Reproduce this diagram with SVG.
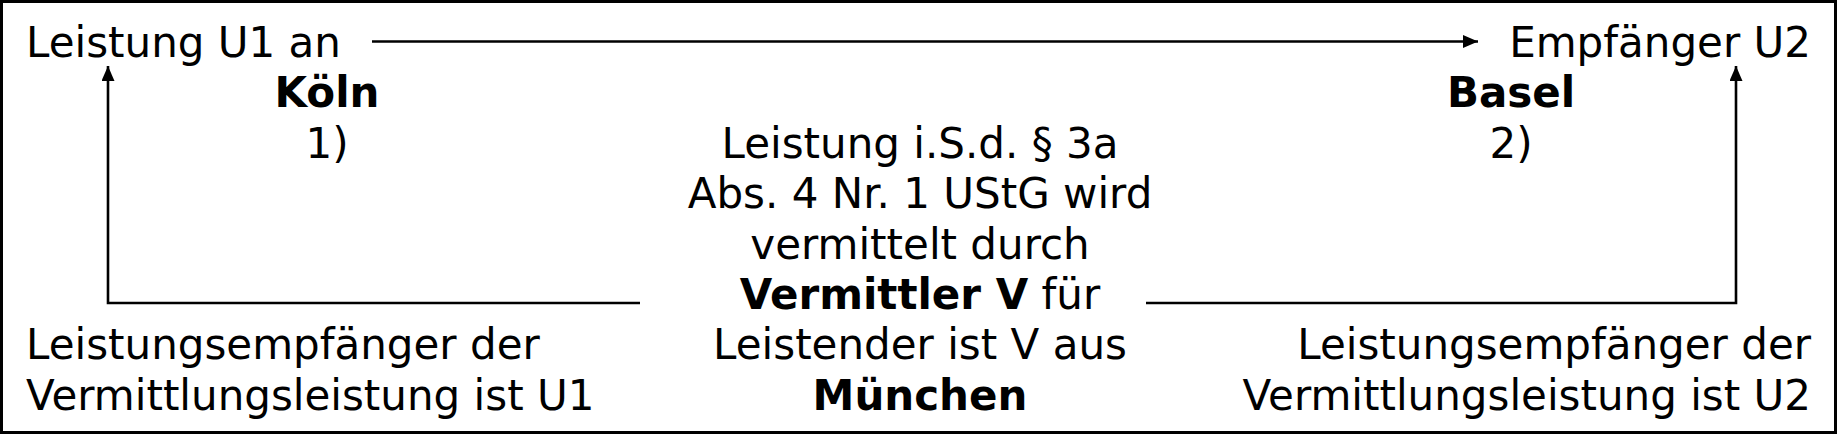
<svg xmlns="http://www.w3.org/2000/svg" width="1837" height="434" viewBox="0 0 1837 434">
<defs>
<style>
text{font-family:"DejaVu Sans","Verdana",sans-serif;font-size:42px;fill:#000}
.b{font-weight:bold}
.m{text-anchor:middle}
.r{text-anchor:end}
.c{fill:none;stroke:#000;stroke-width:2.6}
</style>
<marker id="ah" markerUnits="userSpaceOnUse" markerWidth="16" markerHeight="14" refX="15" refY="6.5" orient="auto" viewBox="0 0 16 14">
<path d="M0,0 L15,6.5 L0,13 z" fill="#000"/>
</marker>
</defs>
<rect x="1.5" y="1.5" width="1834" height="431" fill="#fff" stroke="#000" stroke-width="3"/>
<g id="connectors">
<line class="c" x1="372" y1="41.5" x2="1478" y2="41.5" marker-end="url(#ah)"/>
<polyline class="c" points="640,303 108,303 108,66" marker-end="url(#ah)"/>
<polyline class="c" points="1146,303 1736,303 1736,66" marker-end="url(#ah)"/>
</g>
<g id="u1">
<text x="26" y="57">Leistung U1 an</text>
<text class="m b" x="327" y="107.4">Köln</text>
<text class="m" x="327" y="157.8">1)</text>
</g>
<g id="u2">
<text class="r" x="1811" y="57">Empfänger U2</text>
<text class="m b" x="1511" y="107.4">Basel</text>
<text class="m" x="1511" y="157.8">2)</text>
</g>
<g id="v">
<text class="m" x="920" y="158">Leistung i.S.d. § 3a</text>
<text class="m" x="920" y="208.2">Abs. 4 Nr. 1 UStG wird</text>
<text class="m" x="920" y="258.6">vermittelt durch</text>
<text class="m" x="920" y="309"><tspan class="b">Vermittler V</tspan> für</text>
<text class="m" x="920" y="359.4">Leistender ist V aus</text>
<text class="m b" x="920" y="409.8">München</text>
</g>
<g id="le1">
<text x="26" y="359.4">Leistungsempfänger der</text>
<text x="26" y="409.8">Vermittlungsleistung ist U1</text>
</g>
<g id="le2">
<text class="r" x="1811" y="359.4">Leistungsempfänger der</text>
<text class="r" x="1811" y="409.8">Vermittlungsleistung ist U2</text>
</g>
</svg>
